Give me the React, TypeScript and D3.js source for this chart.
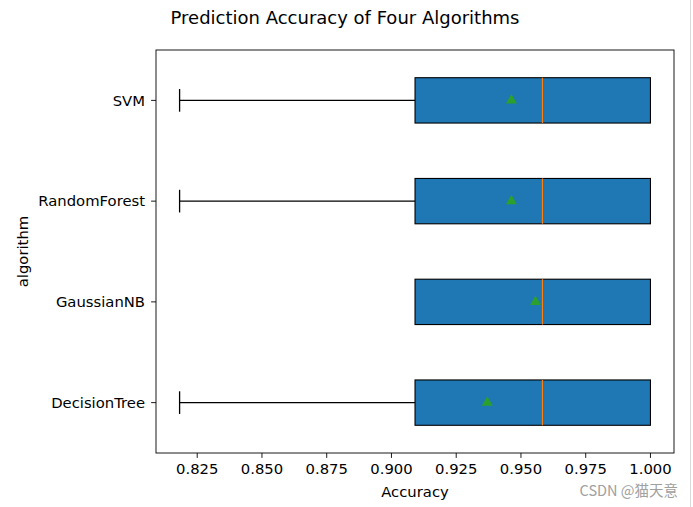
import React from "react";
import * as d3 from "d3";

const algorithms = ["DecisionTree", "GaussianNB", "RandomForest", "SVM"];
const mins = [0.8182, 0.9091, 0.8182, 0.8182];
const q1s = [0.9091, 0.9091, 0.9091, 0.9091];
const medians = [0.9583, 0.9583, 0.9583, 0.9583];
const q3s = [1.0, 1.0, 1.0, 1.0];
const maxs = [1.0, 1.0, 1.0, 1.0];
const means = [0.937, 0.9556, 0.9463, 0.9463];
const xTicks = [0.825, 0.85, 0.875, 0.9, 0.925, 0.95, 0.975, 1.0];

const W = 693, H = 507;
const L = 156, R = 674, T = 50, B = 453;
const FONT = "DejaVu Sans, sans-serif";
const FS = 14.8;

export default function App() {
  const x = d3.scaleLinear().domain([0.80909, 1.00909]).range([L, R]);
  const y = d3.scaleLinear().domain([0.5, 4.5]).range([B, T]);
  const bw = 0.45;
  const boxH = y(0) - y(bw);
  const capH = boxH / 2;
  const tri = d3.symbol().type(d3.symbolTriangle).size(52)();

  return (
    <svg width={W} height={H} style={{ position: "absolute", left: 0, top: 0, background: "#fff" }} fontFamily={FONT}>
      <rect x={0} y={0} width={W} height={H} fill="#fff" />
      <line x1={690.5} x2={690.5} y1={0} y2={H} stroke="#d8d8d8" strokeWidth={1} />
      <text x={345} y={24} fontSize={18} textAnchor="middle" fill="#000">Prediction Accuracy of Four Algorithms</text>

      {algorithms.map((a, i) => {
        const cy = y(i + 1);
        const x0 = x(q1s[i]), x1 = x(q3s[i]);
        return (
          <g key={a}>
            {mins[i] < q1s[i] && (
              <>
                <line x1={x(mins[i])} x2={x0} y1={cy} y2={cy} stroke="#000" strokeWidth={1.1} />
                <line x1={x(mins[i])} x2={x(mins[i])} y1={cy - capH / 2} y2={cy + capH / 2} stroke="#000" strokeWidth={1.3} />
              </>
            )}
            {maxs[i] > q3s[i] && (
              <>
                <line x1={x1} x2={x(maxs[i])} y1={cy} y2={cy} stroke="#000" strokeWidth={1.1} />
                <line x1={x(maxs[i])} x2={x(maxs[i])} y1={cy - capH / 2} y2={cy + capH / 2} stroke="#000" strokeWidth={1.3} />
              </>
            )}
            <rect x={x0} y={cy - boxH / 2} width={x1 - x0} height={boxH} fill="#1f77b4" stroke="#000" strokeWidth={1.1} />
            <line x1={x(medians[i])} x2={x(medians[i])} y1={cy - boxH / 2} y2={cy + boxH / 2} stroke="#ff7f0e" strokeWidth={1.2} />
            <path d={tri} transform={`translate(${x(means[i])},${cy})`} fill="#2ca02c" />
          </g>
        );
      })}

      <rect x={L} y={T} width={R - L} height={B - T} fill="none" stroke="#000" strokeWidth={0.9} />

      {xTicks.map((t) => (
        <g key={t}>
          <line x1={x(t)} x2={x(t)} y1={B} y2={B + 4.9} stroke="#000" strokeWidth={0.9} />
          <text x={x(t)} y={B + 21} fontSize={FS} textAnchor="middle" fill="#000">{d3.format(".3f")(t)}</text>
        </g>
      ))}
      {algorithms.map((a, i) => (
        <g key={a}>
          <line x1={L} x2={L - 4.9} y1={y(i + 1)} y2={y(i + 1)} stroke="#000" strokeWidth={0.9} />
          <text x={L - 11} y={y(i + 1)} dy="0.35em" fontSize={FS} textAnchor="end" fill="#000">{a}</text>
        </g>
      ))}
      <text x={(L + R) / 2} y={497} fontSize={FS} textAnchor="middle" fill="#000">Accuracy</text>
      <text transform={`translate(28,${(T + B) / 2}) rotate(-90)`} fontSize={FS} textAnchor="middle" fill="#000">algorithm</text>
      <text x={678} y={496} fontSize={14.5} textAnchor="end" fill="#a0a0a0" fontFamily="Noto Sans CJK SC, DejaVu Sans, sans-serif">CSDN @猫天意</text>
    </svg>
  );
}
